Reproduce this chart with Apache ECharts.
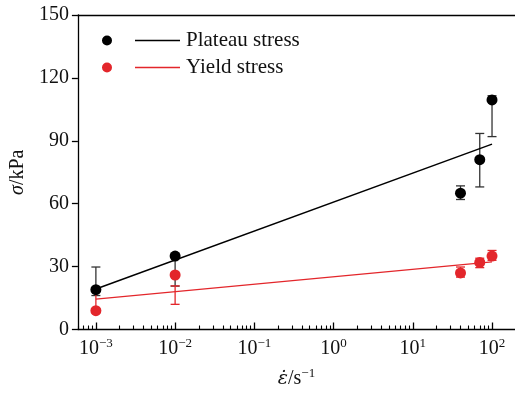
<!DOCTYPE html>
<html><head><meta charset="utf-8">
<script src="https://cdn.jsdelivr.net/npm/echarts@6/dist/echarts.min.js"></script>
<style>html,body{margin:0;padding:0;background:#fff}#c{width:515px;height:394px}</style>
</head><body><div id="c"></div>
<script>
// ---- data ----
const rates = [0.001, 0.01, 40, 70, 100];
const plateau = [19, 35, 65, 81, 109.5];
const plateauLow = [16.2, 20.7, 62, 68, 92];
const plateauHigh = [29.8, 36, 68.5, 93.5, 111.5];
const yieldS = [9, 26, 27, 32, 35];
const yieldLow = [8, 12, 25, 29.5, 33];
const yieldHigh = [19.5, 20.8, 29.8, 34, 37.7];
const fitRates = [0.001, 100];
const plateauFit = [19.3, 88.4];
const yieldFit = [14.5, 32.3];
const majorExps = [-3, -2, -1, 0, 1, 2];
const yTicks = [0, 30, 60, 90, 120, 150];

const lg = v => Math.log10(v);
const FONT = '"Liberation Serif", "DejaVu Serif", serif';
const BLACK = '#000000', RED = '#e3262b';
const XMIN = -3.227, XMAX = 2.29;

const minorVals = [];
for (let n = -4; n <= 2; n++) for (let k = 2; k <= 9; k++) {
  const v = n + Math.log10(k);
  if (v > XMIN && v < XMAX) minorVals.push(v);
}

function pts(xs, ys) { return xs.map((x, i) => [lg(x), ys[i]]); }
function errData(xs, lo, hi) { return xs.map((x, i) => [lg(x), lo[i], hi[i]]); }
function errRender(color) {
  return function (params, api) {
    const x = api.value(0);
    const a = api.coord([x, api.value(2)]);
    const b = api.coord([x, api.value(1)]);
    const w = 4.5;
    const st = { stroke: color, lineWidth: 1.3 };
    return { type: 'group', children: [
      { type: 'line', shape: { x1: a[0], y1: a[1], x2: b[0], y2: b[1] }, style: st },
      { type: 'line', shape: { x1: a[0] - w, y1: a[1], x2: a[0] + w, y2: a[1] }, style: st },
      { type: 'line', shape: { x1: b[0] - w, y1: b[1], x2: b[0] + w, y2: b[1] }, style: st }
    ]};
  };
}
const legendIcon = 'path://M0,5a5,5 0 1,0 10,0a5,5 0 1,0 -10,0Z M33,4.2 H78 V5.8 H33 Z';

const chart = echarts.init(document.getElementById('c'), null, { renderer: 'canvas' });
chart.setOption({
  animation: false,
  backgroundColor: '#fff',
  textStyle: { fontFamily: FONT },
  grid: { left: 77, top: 15, right: 0, bottom: 61, containLabel: false },
  legend: {
    orient: 'vertical', left: 102, top: 30, padding: 0, itemWidth: 80, itemHeight: 10, itemGap: 6,
    icon: legendIcon,
    textStyle: { fontFamily: FONT, fontSize: 21, color: '#111', lineHeight: 20 },
    data: ['Plateau stress', 'Yield stress']
  },
  xAxis: [
    {
      type: 'value', min: XMIN, max: XMAX, position: 'bottom',
      axisLine: { show: true, onZero: false, lineStyle: { color: '#000', width: 1.3 } },
      axisTick: { show: true, inside: true, length: 7, customValues: majorExps, lineStyle: { color: '#000', width: 1.3 } },
      axisLabel: {
        customValues: majorExps, margin: 8, color: '#111', fontFamily: FONT, fontSize: 20,
        formatter: v => '10{s|' + (v < 0 ? '\u2212' + (-v) : v) + '}',
        rich: { s: { fontSize: 13, fontFamily: FONT, color: '#111', padding: [0, 0, 10, 0] } }
      },
      splitLine: { show: false },
      name: '{e|\u03b5\u0307}/s{s|\u22121}', nameLocation: 'middle', nameGap: 38,
      nameTextStyle: {
        fontFamily: FONT, fontSize: 20, color: '#111',
        rich: { e: { fontStyle: 'italic', fontSize: 19, fontFamily: '"DejaVu Serif", serif', color: '#111' },
                s: { fontSize: 13, fontFamily: FONT, color: '#111', padding: [0, 0, 10, 0] } }
      }
    },
    {
      type: 'value', min: XMIN, max: XMAX, position: 'bottom',
      axisLine: { show: false, onZero: false },
      axisTick: { show: true, inside: true, length: 4, customValues: minorVals, lineStyle: { color: '#000', width: 1.1 } },
      axisLabel: { show: false }, splitLine: { show: false }
    },
    {
      type: 'value', min: XMIN, max: XMAX, position: 'top',
      axisLine: { show: true, onZero: false, lineStyle: { color: '#000', width: 1.3 } },
      axisTick: { show: false }, axisLabel: { show: false }, splitLine: { show: false }
    }
  ],
  yAxis: {
    type: 'value', min: 0, max: 150, interval: 30, position: 'left',
    axisLine: { show: true, onZero: false, lineStyle: { color: '#000', width: 1.3 } },
    axisTick: { show: true, inside: false, length: 6, lineStyle: { color: '#000', width: 1.3 } },
    axisLabel: { margin: 9, color: '#111', fontFamily: FONT, fontSize: 20 },
    splitLine: { show: false },
    name: '{i|\u03c3}/kPa', nameLocation: 'middle', nameGap: 43, nameRotate: 90,
    nameTextStyle: {
      fontFamily: FONT, fontSize: 20, color: '#111',
      rich: { i: { fontStyle: 'italic', fontSize: 20, fontFamily: FONT, color: '#111' } }
    }
  },
  series: [
    { name: 'Plateau stress', type: 'line', data: pts(fitRates, plateauFit), showSymbol: false, symbol: 'none',
      lineStyle: { color: BLACK, width: 1.5 }, itemStyle: { color: BLACK }, z: 3 },
    { name: 'Yield stress', type: 'line', data: pts(fitRates, yieldFit), showSymbol: false, symbol: 'none',
      lineStyle: { color: RED, width: 1.3 }, itemStyle: { color: RED }, z: 3 },
    { name: 'Plateau err', type: 'custom', renderItem: errRender('#333'), data: errData(rates, plateauLow, plateauHigh),
      encode: { x: 0, y: [1, 2] }, z: 2 },
    { name: 'Yield err', type: 'custom', renderItem: errRender(RED), data: errData(rates, yieldLow, yieldHigh),
      encode: { x: 0, y: [1, 2] }, z: 2 },
    { name: 'Plateau pts', type: 'scatter', data: pts(rates, plateau), symbolSize: 11,
      itemStyle: { color: BLACK, opacity: 1 }, z: 4 },
    { name: 'Yield pts', type: 'scatter', data: pts(rates, yieldS), symbolSize: 11,
      itemStyle: { color: RED, opacity: 1 }, z: 4 }
  ]
});
</script></body></html>
